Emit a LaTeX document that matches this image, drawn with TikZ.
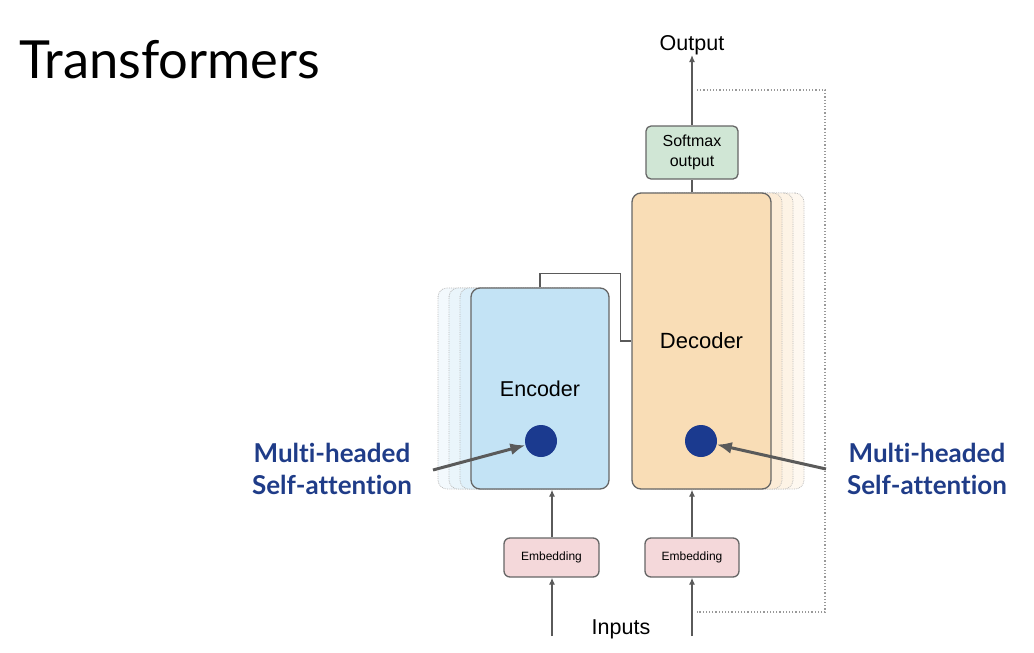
\documentclass[tikz,border=0pt]{standalone}
\usepackage{fontspec}
\setmainfont{Liberation Sans}
\newfontfamily\latofont{Lato}[Ligatures=NoCommon]
\usepackage{tikz}
\usetikzlibrary{arrows.meta}
\usetikzlibrary{positioning}
\definecolor{linegray}{HTML}{666666}
\definecolor{arrowgray}{HTML}{5A5A5A}
\definecolor{encblue}{HTML}{C3E3F5}
\definecolor{decpeach}{HTML}{F9DDB6}
\definecolor{softgreen}{HTML}{D0E6D5}
\definecolor{embpink}{HTML}{F4D8DA}
\definecolor{dotblue}{HTML}{1B3A8F}
\definecolor{attnblue}{HTML}{1F3C88}
\tikzset{
  block/.style={draw=linegray, line width=1.3pt, rounded corners=9pt, inner sep=0pt},
  stackbox/.style={draw=gray!55, densely dotted, line width=0.8pt, rounded corners=9pt, inner sep=0pt},
  flow/.style={draw=arrowgray, line width=1.3pt, -{Latex[length=7pt,width=6pt]}},
  wire/.style={draw=arrowgray, line width=1.3pt},
  feedback/.style={draw=gray!80, dotted, line width=1.2pt},
  dot/.style={circle, fill=dotblue, minimum size=32pt, inner sep=0pt},
  attn/.style={font=\latofont\bfseries\fontsize{26}{32}\selectfont, text=attnblue, align=center},
  attnarrow/.style={draw=arrowgray, line width=3pt, -{Latex[length=15pt,width=12pt]}},
  lbl/.style={font=\fontsize{21.5}{25}\selectfont, inner sep=1pt},
}
\begin{document}
\begin{tikzpicture}[x=1pt,y=-1pt]
  \useasboundingbox (0,0) rectangle (1034,653);

  \node[font=\latofont\fontsize{52.5}{62}\selectfont, anchor=base west, inner sep=0pt] (title) at (19,78) {Transformers};

  % stacked copies behind encoder and decoder
  \foreach \k/\c in {3/encblue!20, 2/encblue!35, 1/encblue!55}{
      \node[stackbox, fill=\c, minimum width=138pt, minimum height=201pt] (encs\k) at (540-11*\k, 388.5) {};
    }
  \foreach \k/\c in {3/decpeach!20, 2/decpeach!35, 1/decpeach!55}{
      \node[stackbox, fill=\c, minimum width=139pt, minimum height=296pt] (decs\k) at (701.5+11*\k, 341) {};
    }

  \node[block, fill=encblue, minimum width=138pt, minimum height=201pt, font=\fontsize{21.5}{25}\selectfont] (enc) at (540,388.5) {Encoder};
  \node[block, fill=decpeach, minimum width=139pt, minimum height=296pt, font=\fontsize{22}{25}\selectfont] (dec) at (701.5,341) {Decoder};

  \node[block, fill=softgreen, rounded corners=5pt, minimum width=92pt, minimum height=53pt, align=center, font=\fontsize{16}{20}\selectfont] (soft) at (692,152.5) {Softmax\\output};
  \node[lbl, anchor=south, inner sep=0pt] (out) at (692,55) {Output};

  \node[block, fill=embpink, rounded corners=6pt, minimum width=95pt, minimum height=39pt, font=\fontsize{12}{14}\selectfont] (embL) at (551.5,557.5) {Embedding};
  \node[block, fill=embpink, rounded corners=6pt, minimum width=94pt, minimum height=39pt, font=\fontsize{12}{14}\selectfont] (embR) at (692,557.5) {Embedding};
  \node[lbl] (inputs) at (621,629) {Inputs};

  \coordinate (inL) at (552,636);
  \coordinate (inR) at (692,636);
  \draw[flow] (inL) -- (embL.south -| inL);
  \draw[flow] (inR) -- (embR.south -| inR);
  \draw[flow] (embL.north -| inL) -- (enc.south -| inL);
  \draw[flow] (embR.north -| inR) -- (dec.south -| inR);

  \draw[wire] (dec.north -| soft) -- (soft.south);
  \draw[flow] (soft.north) -- (out.south);
  \draw[wire] (enc.north) -- ++(0,-14) -| ([xshift=-11pt]dec.west) -- (dec.west);

  % loop back from output to decoder input
  \coordinate (fbtop) at (697,90);
  \coordinate (fbbot) at (697,612);
  \draw[feedback] (fbtop) -- ++(128,0) |- (fbbot);

  \node[dot] (encdot) at (541,441) {};
  \node[dot] (decdot) at (701,441) {};

  \node[attn] (lattn) at (332,469) {Multi-headed\\Self-attention};
  \node[attn] (rattn) at (927,469) {Multi-headed\\Self-attention};
  \coordinate (lfoot) at (433,470);
  \coordinate (rfoot) at (826,469);
  \draw[attnarrow] (lfoot) -- (encdot);
  \draw[attnarrow] (rfoot) -- (decdot);
\end{tikzpicture}
\end{document}
